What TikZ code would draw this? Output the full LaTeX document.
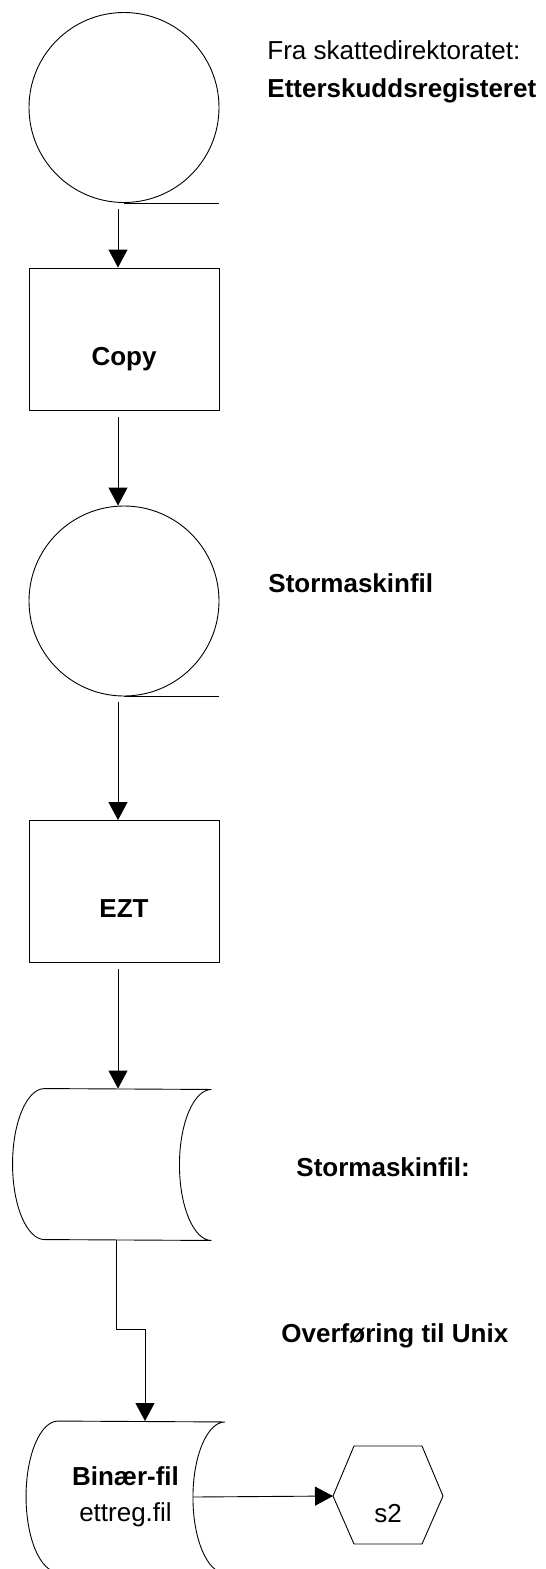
\documentclass[tikz,border=0pt]{standalone}
\usepackage{fontspec}
\setmainfont{Liberation Sans}
\usepackage{tikz}
\usetikzlibrary{positioning,arrows.meta}

\begin{document}
\begin{tikzpicture}[x=1pt, y=-1pt, line width=0.9pt,
					every node/.append style={inner sep=0pt, font=\fontsize{26}{36}\selectfont},
					disk/.style={circle, draw, minimum size=190pt},
					proc/.style={rectangle, draw, minimum width=190pt, minimum height=142pt, text height=52pt, text depth=0pt},
					tape/.style={rectangle, minimum width=198pt, minimum height=151pt, align=center}]
					\useasboundingbox (0,0) rectangle (546,1569);
					\node[disk] (skatt) at (124,107.5) {};
					\node[proc] (copy) at (124,339) {\bfseries Copy};
					\node[disk] (stor) at (124,601) {};
					\node[proc] (ezt) at (124,891.5) {\bfseries EZT};
					\node[tape] (tapeA) at (112,1164.5) {};
					\node[tape] (tapeB) at (125.5,1497) {\bfseries Binær-fil\\ettreg.fil};
					\coordinate (hexW) at (333,1496);
					\node[text height=52pt, text depth=0pt] (s2) at (388,1496) {s2};
					\node[anchor=base west] (fra) at (267,59) {Fra skattedirektoratet:};
					\node[anchor=base west] (etter) at (267,97) {\bfseries Etterskuddsregisteret};
					\node[anchor=base west] (storTxt) at (268,592) {\bfseries Stormaskinfil};
					\node[anchor=base west] (tapeTxt) at (296,1176) {\bfseries Stormaskinfil:};
					\node[anchor=base west] (unix) at (281,1342) {\bfseries Overføring til Unix};
					\draw (skatt.south) -- (skatt.south -| skatt.east);
					\draw (stor.south) -- (stor.south -| stor.east);
					\foreach \t in {tapeA,tapeB}
					\draw ([xshift=32pt]\t.north west) arc[start angle=90, end angle=270, x radius=32pt, y radius=75.5pt]
						-- (\t.south east) arc[start angle=270, end angle=90, x radius=32pt, y radius=75.5pt] -- cycle;
					\draw (hexW) -- ++(21,-50) -- ++(68,0) -- ++(21,50) -- ++(-21,48) -- ++(-68,0) -- cycle;
					\begin{scope}[-{Triangle[width=19pt,length=18pt]}]
					\draw ([xshift=-6pt,yshift=-6pt]skatt.south) -- ([xshift=-6pt]copy.north);
					\draw ([xshift=-6pt,yshift=-7pt]copy.south) -- ([xshift=-6pt]stor.north);
					\draw ([xshift=-6pt,yshift=-6pt]stor.south) -- ([xshift=-6pt]ezt.north);
					\draw ([xshift=-6pt,yshift=-6pt]ezt.south) -- ([xshift=6pt]tapeA.north);
					\draw ([xshift=4pt]tapeA.south) -- ++(0,89) -| ([xshift=19.5pt]tapeB.north);
					\draw ([xshift=-32pt]tapeB.east) -- (hexW);
					\end{scope}
					\end{tikzpicture}
\end{document}
